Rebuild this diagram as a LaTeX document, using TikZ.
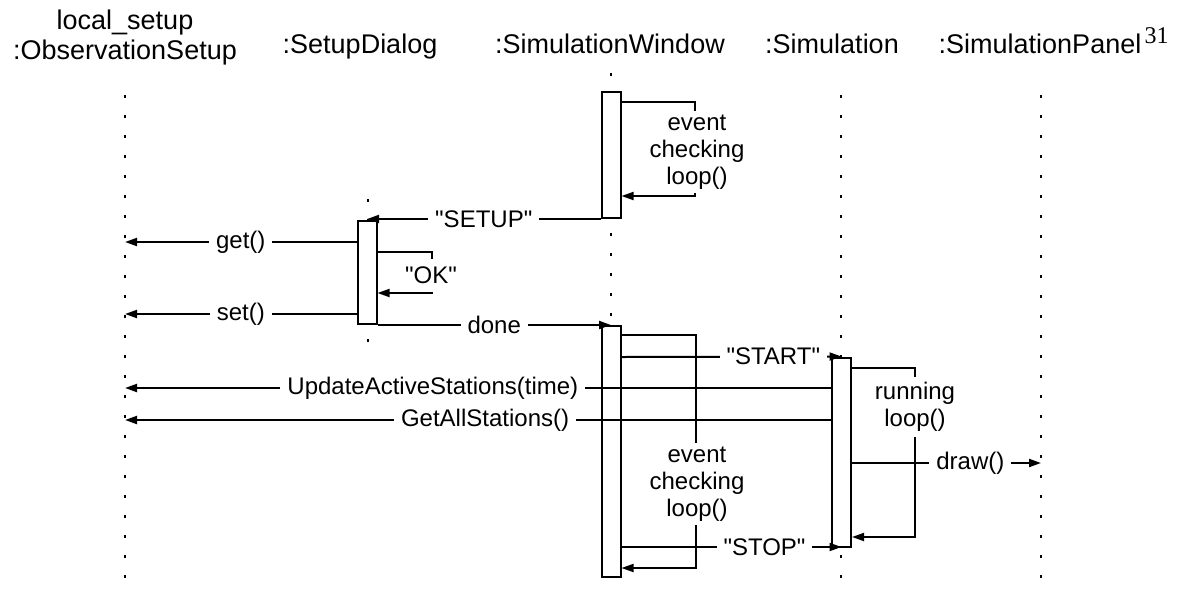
\documentclass[tikz,border=0pt]{standalone}
\usepackage{fontspec}
% plain family (no TeX ligature mapping) so that " stays a straight quote
\newfontfamily\diagfont{Liberation Sans}
\newfontfamily\pagenumfont{Liberation Serif}
\usetikzlibrary{arrows.meta}

\begin{document}
\begin{tikzpicture}[x=1pt,y=-1pt,
  head/.style={font=\diagfont\fontsize{27}{30}\selectfont, align=center, inner sep=0pt},
  lbl/.style={font=\diagfont\fontsize{24}{27}\selectfont, fill=white, inner xsep=7pt, inner ysep=2pt, align=center},
  tip/.tip={Triangle[length=12pt,width=8pt]},
  msg/.style={line width=2pt, -tip},
  selfloop/.style={line width=1.8pt, -tip},
  life/.style={line width=1.8pt, dash pattern=on 3pt off 17pt},
  act/.style={draw, line width=2pt, fill=white, minimum width=19pt, inner sep=0pt}
]
\useasboundingbox (0,0) rectangle (1193,590);

% object headers
\node[head] (hObs) at (125,38) {local\_setup\\:ObservationSetup};
\node[head, anchor=base] (hDlg) at (360,53) {:SetupDialog};
\node[head, anchor=base] (hWin) at (610,53) {:SimulationWindow};
\node[head, anchor=base] (hSim) at (832,53) {:Simulation};
\node[head, anchor=base] (hPan) at (1040,53) {:SimulationPanel};
\node[font=\pagenumfont\fontsize{24}{24}\selectfont, anchor=south west, inner sep=0pt]
  (pgno) at ([xshift=3pt,yshift=-1pt]hPan.east) {31};

% lifeline ends
\coordinate (obsT) at (125,95);   \coordinate (obsB) at (125,590);
\coordinate (dlgT) at (368,199);  \coordinate (dlgB) at (368,352);
\coordinate (winT) at (611,73);   \coordinate (winB) at (611,590);
\coordinate (simT) at (841,95);   \coordinate (simB) at (841,590);
\coordinate (panT) at (1041,95);  \coordinate (panB) at (1041,590);

\draw[life] (obsT) -- (obsB);
\draw[life] (dlgT) -- (dlgB);
\draw[life] (winT) -- (winB);
\draw[life] (simT) -- (simB);
\draw[life] (panT) -- (panB);

% activation bars
\node[act, minimum height=126pt] (w1) at (611,155) {};
\node[act, minimum height=251pt] (w2) at (611,451.5) {};
\node[act, minimum height=103pt] (d1) at (367,272.5) {};
\node[act, minimum height=189pt] (s1) at (841.5,452) {};

% event checking loop, first activation
\coordinate (l1a) at (695,101.7);
\coordinate (l1b) at (695,196);
\draw[selfloop] (w1.east |- l1a) -- (l1a) -- (l1b) -- (w1.east |- l1b);
\node[lbl, inner ysep=4pt] (l1t) at (697,152) {event\\checking\\loop()};

% SETUP / get / set / OK / done
\draw[msg] (w1.south west) -- node[lbl] (mSetup) {"SETUP"} (d1.north |- w1.south west);
\coordinate (mg) at (0,242);
\coordinate (ms) at (0,314);
\draw[msg] (d1.west |- mg) -- node[lbl] (mGet) {get()} (obsT |- mg);
\draw[msg] (d1.west |- ms) -- node[lbl] (mSet) {set()} (obsT |- ms);

\coordinate (oka) at (432,252);
\coordinate (okb) at (432,293);
\draw[selfloop] (d1.east |- oka) -- (oka) -- (okb) -- (d1.east |- okb);
\node[lbl, inner xsep=2pt, inner ysep=8pt] (okt) at (431,275) {"OK"};

\draw[msg] (d1.south east) -- node[lbl] (mDone) {done} (w2.north);

% event checking loop, second activation
\coordinate (l2a) at (696,335);
\coordinate (l2b) at (696,568);
\draw[selfloop] (w2.east |- l2a) -- (l2a) -- (l2b) -- (w2.east |- l2b);
\node[lbl, inner ysep=4pt] (l2t) at (697,484) {event\\checking\\loop()};

% START / STOP
\coordinate (mst) at (0,357);
\coordinate (msp) at (0,547);
\draw[msg] (w2.east |- mst) -- node[lbl, pos=0.69] (mStart) {"START"} (s1.north);
\draw[msg] (w2.east |- msp) -- node[lbl, pos=0.65] (mStop) {"STOP"} (s1.south |- msp);

% running loop
\coordinate (rla) at (915,368);
\coordinate (rlb) at (915,537);
\draw[selfloop] (s1.east |- rla) -- (rla) -- (rlb) -- (s1.east |- rlb);
\node[lbl, inner ysep=5pt] (rlt) at (915,407) {running\\loop()};

% calls from the simulation
\coordinate (mu) at (0,388);
\coordinate (ma) at (0,420);
\coordinate (md) at (0,463);
\draw[msg] (s1.west |- mu) -- node[lbl, pos=0.564] (mUpd) {UpdateActiveStations(time)} (obsT |- mu);
\draw[msg] (s1.west |- ma) -- node[lbl, pos=0.49] (mAll) {GetAllStations()} (obsT |- ma);
\draw[msg] (s1.east |- md) -- node[lbl, pos=0.626] (mDraw) {draw()} (panT |- md);
\end{tikzpicture}
\end{document}
